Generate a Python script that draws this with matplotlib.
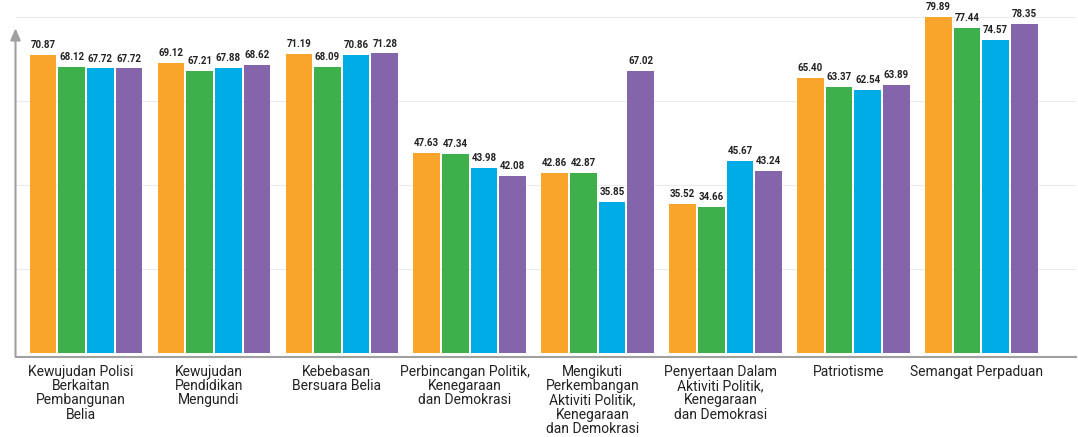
import numpy as np
import matplotlib.pyplot as plt

plt.rcParams['font.family'] = ['Roboto', 'DejaVu Sans']

categories = [
    "Kewujudan Polisi\nBerkaitan\nPembangunan\nBelia",
    "Kewujudan\nPendidikan\nMengundi",
    "Kebebasan\nBersuara Belia",
    "Perbincangan Politik,\nKenegaraan\ndan Demokrasi",
    "Mengikuti\nPerkembangan\nAktiviti Politik,\nKenegaraan\ndan Demokrasi",
    "Penyertaan Dalam\nAktiviti Politik,\nKenegaraan\ndan Demokrasi",
    "Patriotisme",
    "Semangat Perpaduan",
]
orange_vals = [70.87, 69.12, 71.19, 47.63, 42.86, 35.52, 65.40, 79.89]
green_vals = [68.12, 67.21, 68.09, 47.34, 42.87, 34.66, 63.37, 77.44]
blue_vals = [67.72, 67.88, 70.86, 43.98, 35.85, 45.67, 62.54, 74.57]
purple_vals = [67.72, 68.62, 71.28, 42.08, 67.02, 43.24, 63.89, 78.35]

series = [orange_vals, green_vals, blue_vals, purple_vals]
colors = ['#F9A52B', '#3DB04B', '#00ACE6', '#8464AA']

W, H = 1078, 437
fig = plt.figure(figsize=(W / 100, H / 100), dpi=100)
ax = fig.add_axes([15.5 / W, 1 - 356.5 / H, (1076 - 15.5) / W, 356.5 / H])

x = np.arange(len(categories))
step = 0.224
width = 0.208

for i, (vals, col) in enumerate(zip(series, colors)):
    pos = x + (i - 1.5) * step
    bars = ax.bar(pos, vals, width=width, color=col, zorder=3)
    for b, v in zip(bars, vals):
        ax.annotate('%.2f' % v, (b.get_x() + b.get_width() / 2, v),
                    xytext=(0, 3.5), textcoords='offset points',
                    ha='center', va='bottom', fontsize=7, fontweight='bold',
                    color='#222222', zorder=4)

ax.set_xlim(-0.551, 7.74)
ax.set_ylim(-0.83, 84.0)

for g in [20, 40, 60, 80]:
    ax.axhline(g, color='#ebebeb', lw=0.8, zorder=1)

for s in ['top', 'right', 'left']:
    ax.spines[s].set_visible(False)
ax.spines['bottom'].set_color('#a0a0a0')
ax.spines['bottom'].set_linewidth(1.5)

# y axis with arrow
ax.annotate('', xy=(0, 0.921), xytext=(0, 0), xycoords='axes fraction',
            textcoords='axes fraction',
            arrowprops=dict(arrowstyle='-|>,head_length=0.7,head_width=0.3',
                            color='#a0a0a0', lw=1.5, shrinkA=0, shrinkB=0),
            annotation_clip=False)

ax.set_yticks([])
ax.set_xticks(x - 0.04)
ax.set_xticklabels(categories, fontsize=10, color='#222222', linespacing=1.03,
                   multialignment='center')
ax.tick_params(axis='x', length=0, pad=6)

fig.savefig('out.png', dpi=100)
